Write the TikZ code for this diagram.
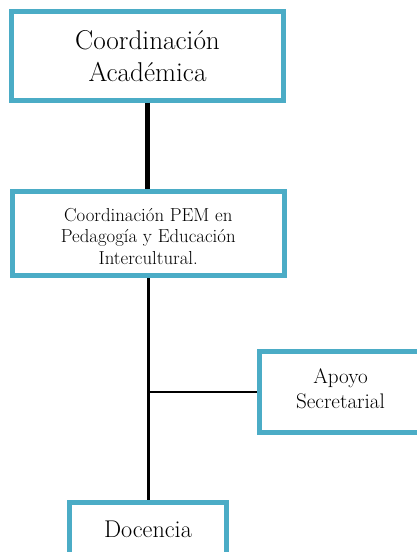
\documentclass[tikz,border=0pt]{standalone}
\definecolor{boxblue}{HTML}{4BACC6}
\begin{document}
\begin{tikzpicture}[x=1pt,y=-1pt,
  orgbox/.style={draw=boxblue, line width=5pt, fill=white, rectangle,
    align=center, inner sep=0pt, text=black},
  link/.style={draw=black, line cap=butt}]
\useasboundingbox (0,0) rectangle (417,552);
\clip (0,0) rectangle (417,552);

% boxes
\node[orgbox, minimum width=272pt, minimum height=88.5pt,
      font=\fontsize{27.2}{32}\selectfont]
  (acad) at (147.5,55.75) {Coordinación\\Académica};
\node[orgbox, minimum width=272.5pt, minimum height=84pt,
      font=\fontsize{18.8}{21.5}\selectfont]
  (pem) at (148.25,233.75)
  {\rule{0pt}{18pt}Coordinación PEM en\\Pedagogía y Educación\\Intercultural.};
\node[orgbox, minimum width=163pt, minimum height=80.5pt,
      font=\fontsize{21.1}{25}\selectfont]
  (apoyo) at (340.5,392) {Apoyo\\Secretarial\rule[-6pt]{0pt}{6pt}};
\node[orgbox, anchor=base, text width=156.4pt, text height=34.8pt, text depth=33pt,
      font=\fontsize{24.2}{28}\selectfont]
  (doc) at (148,537) {Docencia};

% connectors
\draw[link, line width=5pt] (acad.south) -- (acad.south |- pem.north);
\draw[link, line width=3.5pt] (pem.south) -- (pem.south |- doc.north);
\draw[link, line width=2pt] (pem.south |- apoyo.west) -- (apoyo.west);
\end{tikzpicture}
\end{document}
